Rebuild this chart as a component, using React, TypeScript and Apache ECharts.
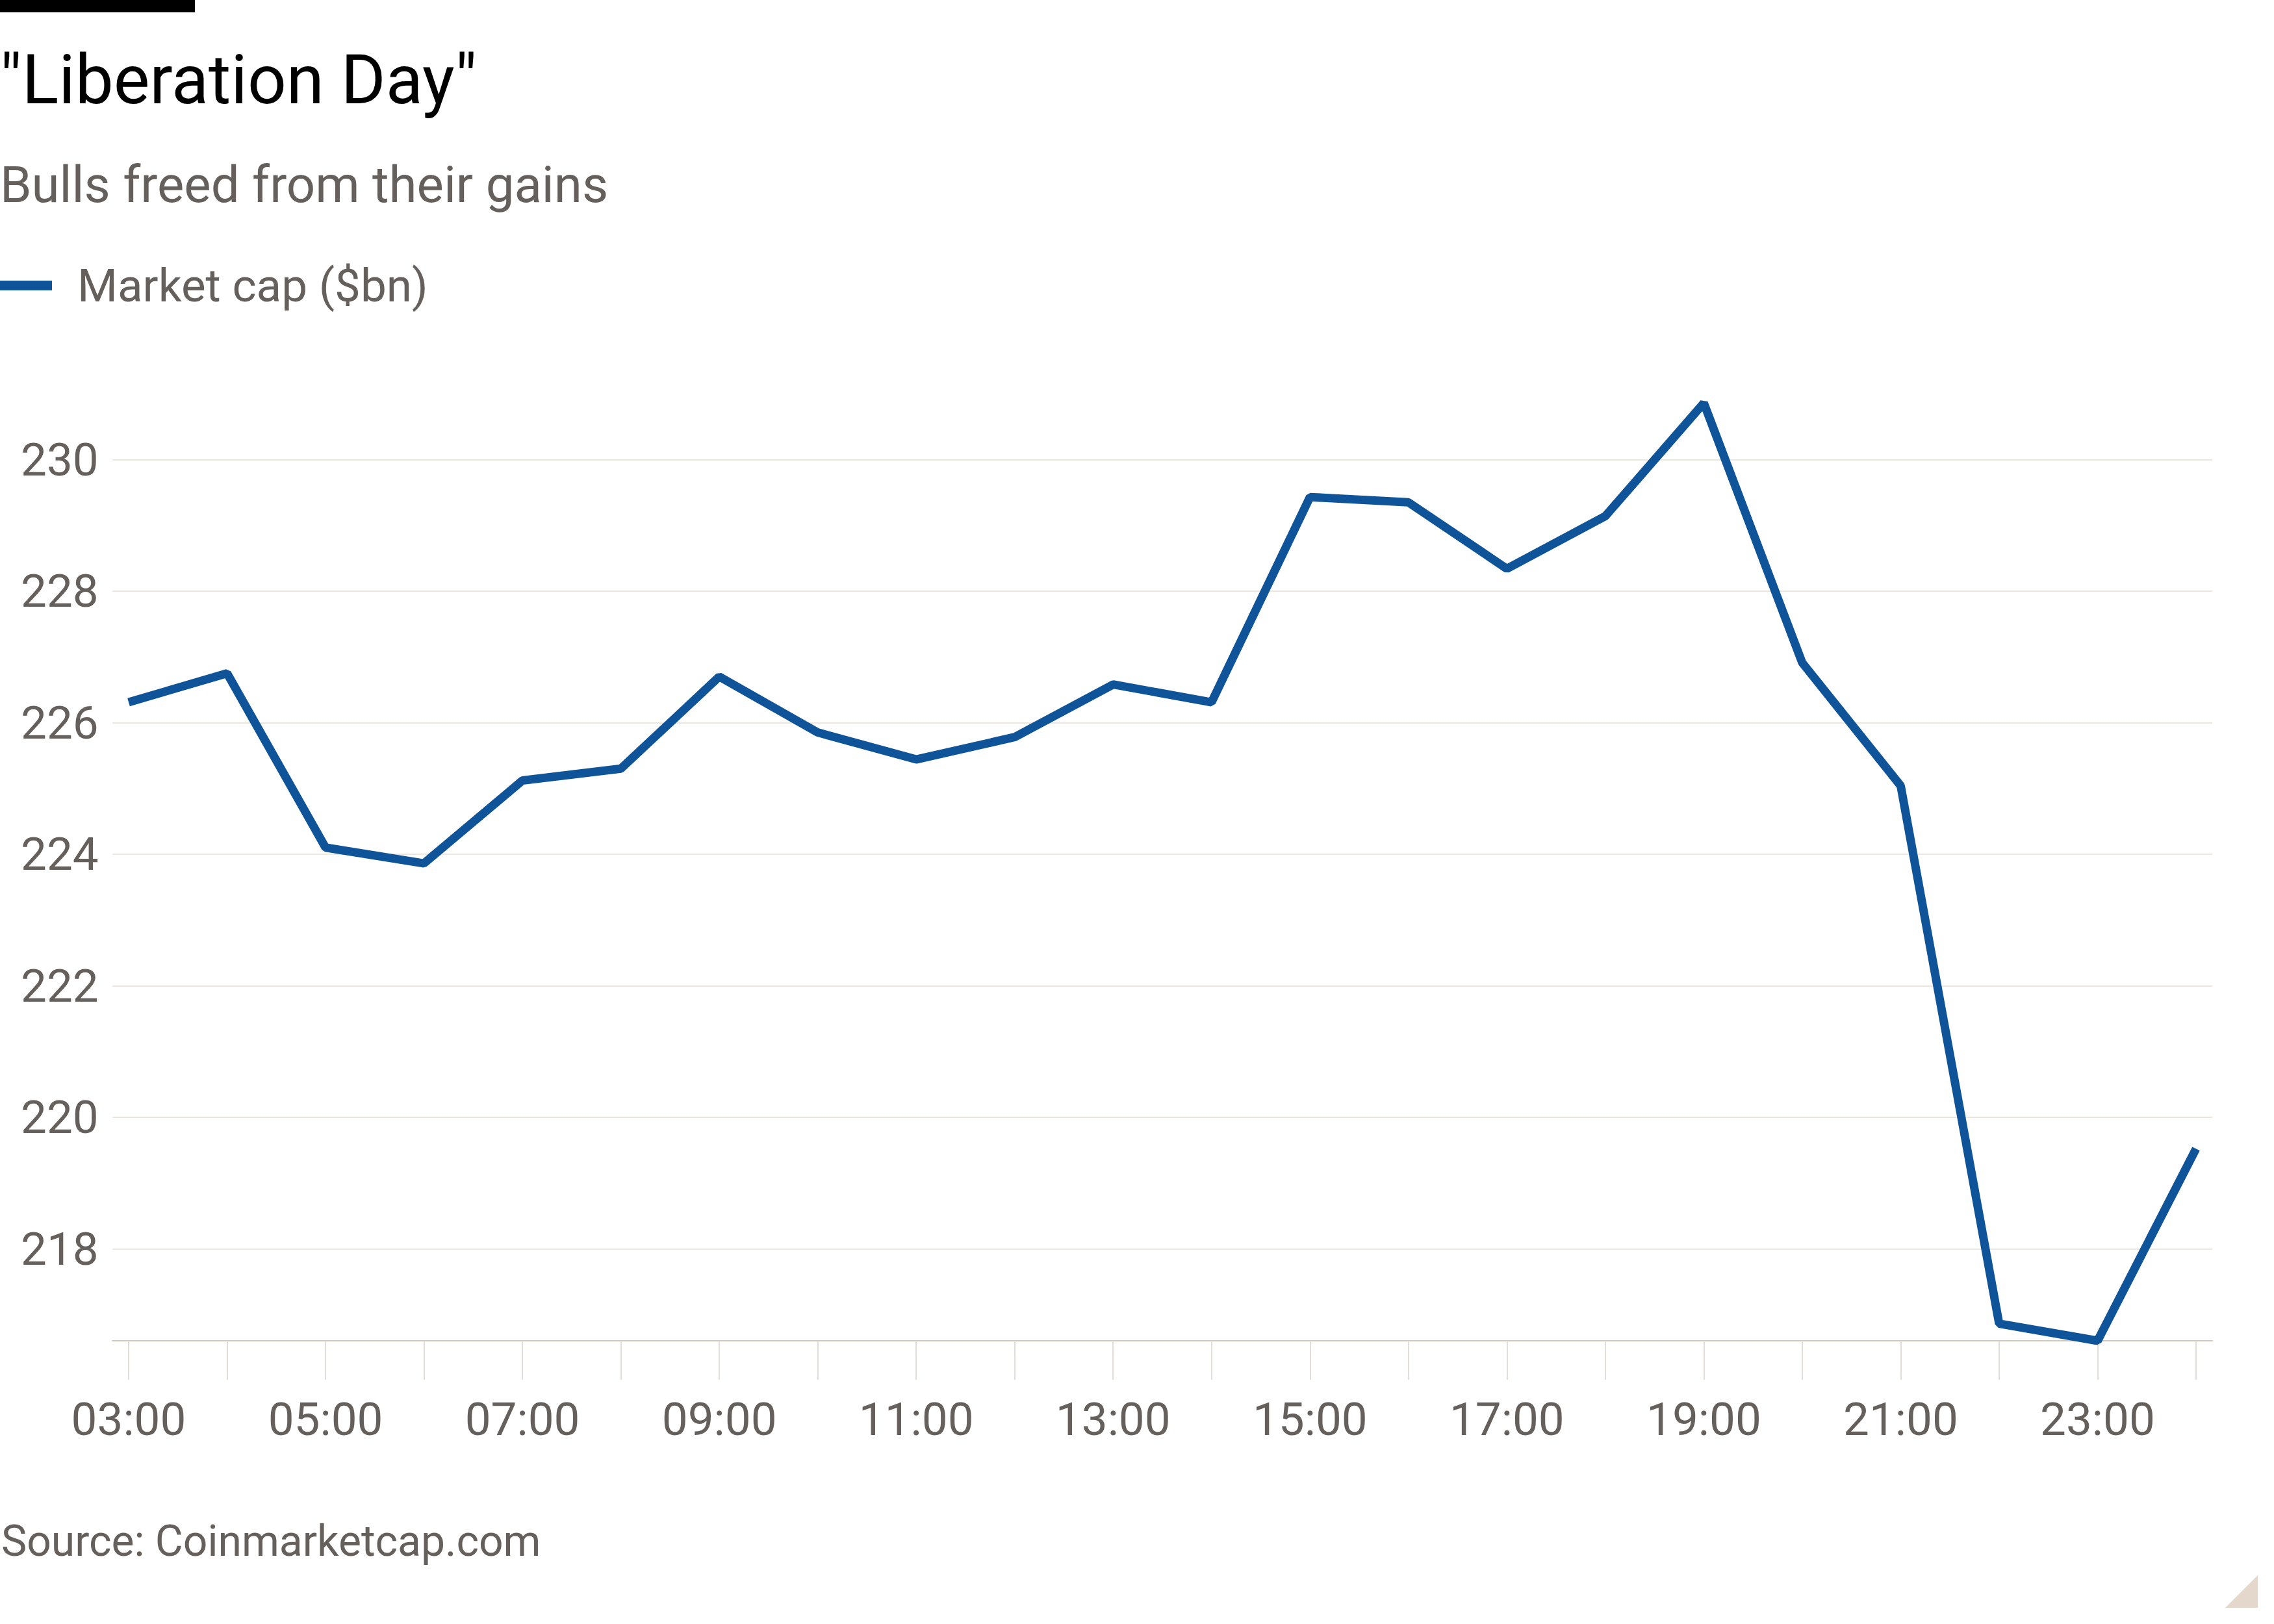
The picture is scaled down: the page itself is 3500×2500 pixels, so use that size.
import React, { useEffect, useRef } from "react";
import * as echarts from "echarts";

// hourly market cap, $bn
const hours = [3, 4, 5, 6, 7, 8, 9, 10, 11, 12, 13, 14, 15, 16, 17, 18, 19, 20, 21, 22, 23, 24];
const marketCap = [
	226.31, 226.75, 224.1, 223.86, 225.12, 225.3, 226.7, 225.85, 225.44, 225.78, 226.58,
	226.31, 229.43, 229.35, 228.34, 229.14, 230.86, 226.91, 225.04, 216.86, 216.6, 219.52,
];
const xLabelHours = [3, 5, 7, 9, 11, 13, 15, 17, 19, 21, 23];
const yTicks = [218, 220, 222, 224, 226, 228, 230];

const title = '"Liberation Day"';
const subtitle = "Bulls freed from their gains";
const seriesName = "Market cap ($bn)";
const source = "Source: Coinmarketcap.com";

const FONT = "Roboto, 'Open Sans', sans-serif";
const GREY = "#66605c";
const BLUE = "#0f5499";

const fmtHour = (h) => `${String(h).padStart(2, "0")}:00`;

const App = () => {
	const chartRef = useRef(null);

	useEffect(() => {
		const chart = echarts.init(chartRef.current, null, { renderer: "svg" });

		const option = {
			animation: false,
			backgroundColor: "#fff",
			grid: { left: 173, right: 95, top: 586, bottom: 436 },
			legend: {
				left: 0,
				top: 404,
				padding: 0,
				icon: "rect",
				itemWidth: 80,
				itemHeight: 15,
				textStyle: {
					fontFamily: FONT,
					fontSize: 71,
					color: GREY,
					padding: [0, 0, 0, 34],
				},
				data: [seriesName],
			},
			xAxis: {
				type: "value",
				min: 2.835,
				max: 24.165,
				axisLine: { show: true, lineStyle: { color: "#d3c8bc", width: 2 } },
				axisTick: {
					show: true,
					customValues: hours,
					length: 60,
					lineStyle: { color: "#e2ddd8", width: 2 },
				},
				axisLabel: {
					customValues: xLabelHours,
					formatter: (v) => fmtHour(v),
					fontFamily: FONT,
					fontSize: 71,
					color: GREY,
					margin: 85,
				},
				splitLine: { show: false },
			},
			yAxis: {
				type: "value",
				min: "dataMin",
				max: 231.2,
				axisLine: { show: false },
				axisTick: { show: false, customValues: yTicks },
				axisLabel: {
					customValues: yTicks,
					fontFamily: FONT,
					fontSize: 71,
					color: GREY,
					align: "left",
					margin: 141,
				},
				splitLine: { show: true, lineStyle: { color: "#ece6df", width: 2 } },
			},
			series: [
				{
					name: seriesName,
					type: "line",
					data: hours.map((h, i) => [h, marketCap[i]]),
					symbol: "none",
					itemStyle: { color: BLUE },
					lineStyle: { color: BLUE, width: 13 },
				},
			],
			graphic: [
				{ type: "rect", shape: { x: 0, y: 0, width: 300, height: 19 }, style: { fill: "#000" } },
				{
					type: "text",
					x: 0,
					y: 123,
					style: { text: title, font: `105px ${FONT}`, fill: "#000", textVerticalAlign: "middle" },
				},
				{
					type: "text",
					x: 0,
					y: 284,
					style: { text: subtitle, font: `78px ${FONT}`, fill: GREY, textVerticalAlign: "middle" },
				},
				{
					type: "text",
					x: 2,
					y: 2372,
					style: { text: source, font: `66px ${FONT}`, fill: GREY, textVerticalAlign: "middle" },
				},
				{
					type: "polygon",
					shape: { points: [[3475, 2425], [3475, 2475], [3425, 2475]] },
					style: { fill: "#e4d8cc" },
				},
			],
		};

		chart.setOption(option);

		return () => {
			chart.dispose();
		};
	}, []);

	return (
		<div
			ref={chartRef}
			style={{ position: "absolute", left: 0, top: 0, width: "3500px", height: "2500px" }}
		/>
	);
};

export default App;
